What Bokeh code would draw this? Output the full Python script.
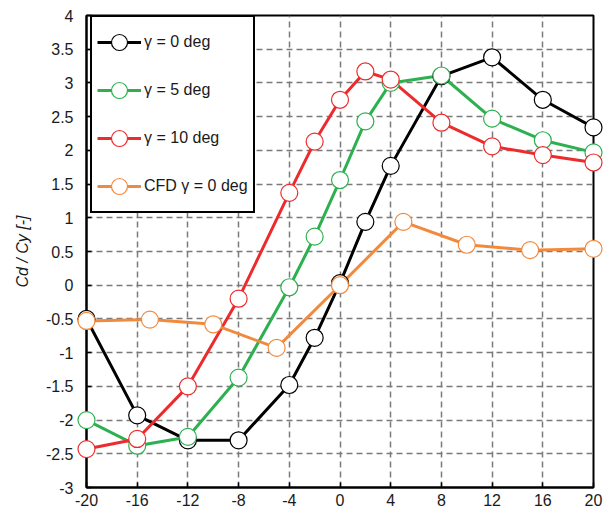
from bokeh.plotting import figure
from bokeh.models import Range1d, FixedTicker, Legend, LegendItem, ColumnDataSource
from bokeh.embed import file_html
from bokeh.resources import INLINE

# ---- data ----
x_exp = [-20, -16, -12, -8, -4, -2, 0, 2, 4, 8, 12, 16, 20]
y_g0 = [-0.50, -1.93, -2.30, -2.30, -1.48, -0.78, 0.03, 0.94, 1.77, 3.10, 3.38, 2.75, 2.34]
y_g5 = [-2.00, -2.38, -2.25, -1.37, -0.03, 0.72, 1.56, 2.43, 3.00, 3.11, 2.47, 2.15, 1.97]
y_g10 = [-2.43, -2.28, -1.50, -0.20, 1.37, 2.13, 2.75, 3.17, 3.05, 2.41, 2.06, 1.93, 1.82]
x_cfd = [-20, -15, -10, -5, 0, 5, 10, 15, 20]
y_cfd = [-0.53, -0.51, -0.58, -0.93, 0.00, 0.94, 0.60, 0.52, 0.54]

x_ticks = [-20, -16, -12, -8, -4, 0, 4, 8, 12, 16, 20]
y_ticks = [-3, -2.5, -2, -1.5, -1, -0.5, 0, 0.5, 1, 1.5, 2, 2.5, 3, 3.5, 4]
y_tick_labels = ["-3", "-2.5", "-2", "-1.5", "-1", "-0.5", "0", "0.5", "1", "1.5", "2", "2.5", "3", "3.5", "4"]

series = [
    ("γ = 0 deg", x_exp, y_g0, "#000000"),
    ("γ = 5 deg", x_exp, y_g5, "#2DB04F"),
    ("γ = 10 deg", x_exp, y_g10, "#ED2B2C"),
    ("CFD γ = 0 deg", x_cfd, y_cfd, "#F28A3E"),
]

FONT = "Liberation Sans"

p = figure(width=603, height=513, output_backend="svg", toolbar_location=None,
           x_range=Range1d(-20, 20), y_range=Range1d(-3, 4),
           min_border_left=86, min_border_right=10, min_border_top=15, min_border_bottom=26)
p.background_fill_color = "white"
p.border_fill_color = "white"
p.outline_line_color = "black"
p.outline_line_width = 2
p.outline_line_alpha = 1

for ax in (p.xaxis[0], p.yaxis[0]):
    ax.axis_line_color = "black"
    ax.axis_line_width = 2
    ax.major_tick_in = 5
    ax.major_tick_out = 0
    ax.major_tick_line_color = "black"
    ax.major_tick_line_width = 1.5
    ax.minor_tick_line_color = None
    ax.major_label_text_font = FONT
    ax.major_label_text_font_size = "16px"
    ax.major_label_text_color = "#1a1a1a"

p.xaxis.ticker = FixedTicker(ticks=x_ticks)
p.xaxis.major_label_overrides = {t: str(t) for t in x_ticks}
p.xaxis.major_label_standoff = 6
p.yaxis.ticker = FixedTicker(ticks=y_ticks)
p.yaxis.major_label_overrides = {t: l for t, l in zip(y_ticks, y_tick_labels)}
p.yaxis.major_label_standoff = 13

p.yaxis.axis_label = "Cd / Cy [-]"
p.yaxis.axis_label_text_font = FONT
p.yaxis.axis_label_text_font_style = "italic"
p.yaxis.axis_label_text_font_size = "16px"
p.yaxis.axis_label_text_color = "#1a1a1a"
p.yaxis.axis_label_standoff = 12

for g in (p.xgrid[0], p.ygrid[0]):
    g.grid_line_color = "#7a7a7a"
    g.grid_line_width = 1.5
    g.grid_line_dash = "6 4"
p.xgrid.ticker = FixedTicker(ticks=x_ticks)
p.ygrid.ticker = FixedTicker(ticks=y_ticks)

items = []
for name, xs, ys, col in series:
    src = ColumnDataSource(dict(x=xs, y=ys))
    # small markers (hidden under the big ones) used only for the legend glyph
    small = p.scatter("x", "y", source=src, size=11, marker="circle", fill_color="white",
                      line_color=col, line_width=1.2)
    ln = p.line("x", "y", source=src, line_color=col, line_width=3)
    s = p.scatter("x", "y", source=src, size=17, marker="circle", fill_color="white",
                  line_color=col, line_width=1.2)
    s.level = "overlay"
    items.append(LegendItem(label=name, renderers=[ln, small]))

legend = Legend(items=items, location=(4, 274))
legend.border_line_color = "black"
legend.border_line_width = 2
legend.border_line_alpha = 1
legend.background_fill_color = "white"
legend.background_fill_alpha = 1
legend.padding = 5
legend.spacing = 8
legend.label_height = 40
legend.glyph_height = 40
legend.glyph_width = 44
legend.label_standoff = 3
legend.label_text_font = FONT
legend.label_text_font_size = "16px"
legend.label_text_color = "#1a1a1a"
legend.margin = 0
p.add_layout(legend, "center")

open("out.html", "w").write(file_html(p, INLINE))
